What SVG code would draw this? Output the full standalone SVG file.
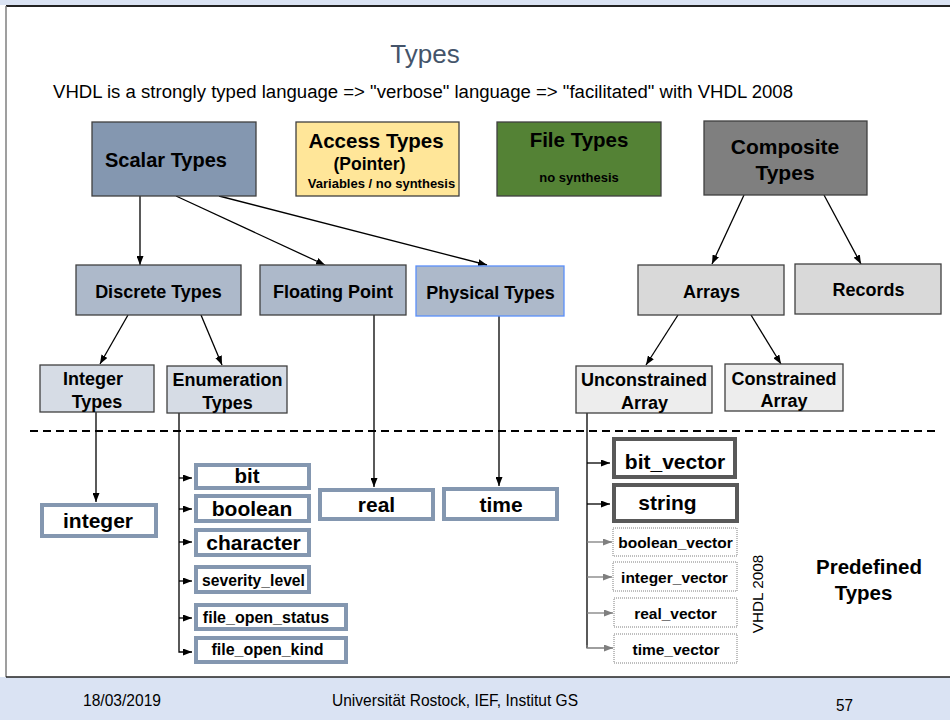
<svg xmlns="http://www.w3.org/2000/svg" width="950" height="720" viewBox="0 0 950 720">
<style>
text{font-family:"Liberation Sans",Arial,sans-serif;fill:#000}
.b{font-weight:bold}
.box{stroke:#404040;stroke-width:1.3}
.c{stroke:#000;stroke-width:1.3;fill:none}
.g{stroke:#7f7f7f;stroke-width:1.3;fill:none}
.ob{fill:#fff;stroke:#8497b0;stroke-width:4}
.db{fill:#fff;stroke:#595959;stroke-width:4}
.dt{fill:#fff;stroke:#7f7f7f;stroke-width:1;stroke-dasharray:1 1}
</style>
<defs>
<marker id="ah" markerWidth="9" markerHeight="7" refX="9" refY="3.5" orient="auto" markerUnits="userSpaceOnUse"><path d="M0,0 L9,3.5 L0,7 z" fill="#000"/></marker>
<marker id="ahg" markerWidth="9" markerHeight="7" refX="9" refY="3.5" orient="auto" markerUnits="userSpaceOnUse"><path d="M0,0 L9,3.5 L0,7 z" fill="#7f7f7f"/></marker>
</defs>
<rect x="0" y="0" width="950" height="720" fill="#fff"/>
<rect x="0" y="0" width="950" height="5" fill="#dae3f3"/>
<rect x="0" y="677" width="950" height="43" fill="#dae3f3"/>
<line x1="6" y1="6" x2="950" y2="6" stroke="#222" stroke-width="2"/>
<line x1="6" y1="6" x2="6" y2="677" stroke="#7f7f7f" stroke-width="1.5"/>
<line x1="6" y1="677" x2="950" y2="677" stroke="#222" stroke-width="1.5"/>
<text x="425" y="63" font-size="26" text-anchor="middle" style="fill:#44546a">Types</text>
<text x="53" y="98" font-size="18" textLength="740" lengthAdjust="spacingAndGlyphs">VHDL is a strongly typed language =&gt; "verbose" language =&gt; "facilitated" with VHDL 2008</text>
<line x1="30" y1="431" x2="940" y2="431" stroke="#000" stroke-width="2" stroke-dasharray="8 5"/>

<g id="connectors">
<line class="c" x1="140" y1="196" x2="140" y2="265" marker-end="url(#ah)"/>
<line class="c" x1="176" y1="196" x2="325" y2="265" marker-end="url(#ah)"/>
<line class="c" x1="219" y1="196" x2="487" y2="265" marker-end="url(#ah)"/>
<line class="c" x1="744" y1="195" x2="712" y2="264" marker-end="url(#ah)"/>
<line class="c" x1="824" y1="195" x2="861" y2="264" marker-end="url(#ah)"/>
<line class="c" x1="128" y1="315" x2="100" y2="364" marker-end="url(#ah)"/>
<line class="c" x1="201" y1="315" x2="222" y2="365" marker-end="url(#ah)"/>
<line class="c" x1="678" y1="315" x2="646" y2="365" marker-end="url(#ah)"/>
<line class="c" x1="751" y1="315" x2="781" y2="364" marker-end="url(#ah)"/>
<line class="c" x1="374" y1="315" x2="374" y2="487" marker-end="url(#ah)"/>
<line class="c" x1="499" y1="316" x2="499" y2="486" marker-end="url(#ah)"/>
<line class="c" x1="96" y1="412" x2="96" y2="502" marker-end="url(#ah)"/>
<path class="c" d="M179,413 V652 H192" marker-end="url(#ah)"/>
<line class="c" x1="179" y1="478" x2="192" y2="478" marker-end="url(#ah)"/>
<line class="c" x1="179" y1="509" x2="192" y2="509" marker-end="url(#ah)"/>
<line class="c" x1="179" y1="542" x2="192" y2="542" marker-end="url(#ah)"/>
<line class="c" x1="179" y1="581" x2="192" y2="581" marker-end="url(#ah)"/>
<line class="c" x1="179" y1="618" x2="192" y2="618" marker-end="url(#ah)"/>
<line class="c" x1="587" y1="413" x2="587" y2="648"/>
<line class="c" x1="587" y1="463" x2="610" y2="463" marker-end="url(#ah)"/>
<line class="c" x1="587" y1="504" x2="610" y2="504" marker-end="url(#ah)"/>
<line class="g" x1="587" y1="542" x2="612" y2="542" marker-end="url(#ahg)"/>
<line class="g" x1="587" y1="577" x2="612" y2="577" marker-end="url(#ahg)"/>
<line class="g" x1="587" y1="613" x2="613" y2="613" marker-end="url(#ahg)"/>
<path class="g" d="M587,645 V648 H613" marker-end="url(#ahg)"/>
</g>

<g id="scalar"><rect class="box" x="92" y="122" width="164" height="74" fill="#8497b0"/><text class="b" x="166" y="167" font-size="20" text-anchor="middle">Scalar Types</text></g>
<g id="access"><rect class="box" x="296" y="122" width="163" height="74" fill="#ffe699"/><text class="b" x="376" y="148" font-size="20.5" text-anchor="middle">Access Types</text><text class="b" x="369.5" y="170" font-size="17.5" text-anchor="middle">(Pointer)</text><text class="b" x="381.5" y="187.5" font-size="13" text-anchor="middle">Variables / no synthesis</text></g>
<g id="file"><rect class="box" x="497" y="122" width="164" height="74" fill="#548235"/><text class="b" x="579" y="147" font-size="20.5" text-anchor="middle">File Types</text><text class="b" x="579" y="181.5" font-size="13" text-anchor="middle">no synthesis</text></g>
<g id="composite"><rect class="box" x="704" y="121" width="163" height="74" fill="#7f7f7f"/><text class="b" x="785" y="153.5" font-size="21" text-anchor="middle">Composite</text><text class="b" x="785" y="179.5" font-size="21" text-anchor="middle">Types</text></g>

<g id="discrete"><rect class="box" x="76" y="265" width="165" height="50" fill="#adb9ca"/><text class="b" x="158.5" y="297.5" font-size="18" text-anchor="middle">Discrete Types</text></g>
<g id="floating"><rect class="box" x="260" y="265" width="146" height="50" fill="#adb9ca"/><text class="b" x="333" y="297.5" font-size="18" text-anchor="middle">Floating Point</text></g>
<g id="physical"><rect x="416" y="266" width="148" height="50" fill="#adb9ca" stroke="#5b8ff9" stroke-width="1.3"/><text class="b" x="490.5" y="298.5" font-size="18" text-anchor="middle">Physical Types</text></g>
<g id="arrays"><rect class="box" x="638" y="265" width="146" height="50" fill="#d9d9d9"/><text class="b" x="711.5" y="297.5" font-size="18" text-anchor="middle">Arrays</text></g>
<g id="records"><rect class="box" x="795" y="264" width="146" height="50" fill="#d9d9d9"/><text class="b" x="868.5" y="295.5" font-size="18" text-anchor="middle">Records</text></g>

<g id="integer-types"><rect class="box" x="40" y="365" width="114" height="47" fill="#d6dce5"/><text class="b" x="93" y="384.5" font-size="18" text-anchor="middle">Integer</text><text class="b" x="97" y="407.5" font-size="18" text-anchor="middle">Types</text></g>
<g id="enumeration-types"><rect class="box" x="167" y="366" width="120" height="47" fill="#d6dce5"/><text class="b" x="227.5" y="385.5" font-size="18" text-anchor="middle">Enumeration</text><text class="b" x="227.5" y="408.5" font-size="18" text-anchor="middle">Types</text></g>
<g id="unconstrained"><rect class="box" x="576" y="366" width="136" height="47" fill="#ededed"/><text class="b" x="644" y="385.5" font-size="18" text-anchor="middle">Unconstrained</text><text class="b" x="644.5" y="408.5" font-size="18" text-anchor="middle">Array</text></g>
<g id="constrained"><rect class="box" x="725" y="364" width="118" height="47" fill="#ededed"/><text class="b" x="784" y="384.5" font-size="18" text-anchor="middle">Constrained</text><text class="b" x="784" y="406.5" font-size="18" text-anchor="middle">Array</text></g>

<g id="integer"><rect class="ob" x="42" y="505" width="114" height="31"/><text class="b" x="98" y="527.5" font-size="21" text-anchor="middle">integer</text></g>
<g id="bit"><rect class="ob" x="196" y="465" width="113" height="23"/><text class="b" x="247" y="483" font-size="20.5" text-anchor="middle">bit</text></g>
<g id="boolean"><rect class="ob" x="196" y="496" width="113" height="25"/><text class="b" x="252" y="516" font-size="21" text-anchor="middle">boolean</text></g>
<g id="character"><rect class="ob" x="196" y="530" width="113" height="25"/><text class="b" x="253.5" y="549.5" font-size="21" text-anchor="middle">character</text></g>
<g id="severity_level"><rect class="ob" x="196" y="567" width="113" height="25"/><text class="b" x="253.5" y="585.5" font-size="15.7" text-anchor="middle">severity_level</text></g>
<g id="file_open_status"><rect class="ob" x="196" y="605" width="150" height="24"/><text class="b" x="266" y="622.5" font-size="16" text-anchor="middle">file_open_status</text></g>
<g id="file_open_kind"><rect class="ob" x="196" y="638" width="150" height="24"/><text class="b" x="267.5" y="654.5" font-size="16" text-anchor="middle">file_open_kind</text></g>
<g id="real"><rect class="ob" x="320" y="490" width="113" height="29"/><text class="b" x="376.5" y="512" font-size="21" text-anchor="middle">real</text></g>
<g id="time"><rect class="ob" x="444" y="489" width="113" height="30"/><text class="b" x="501" y="512" font-size="21" text-anchor="middle">time</text></g>

<g id="bit_vector"><rect class="db" x="614" y="439" width="121" height="38"/><text class="b" x="675" y="468.5" font-size="21" text-anchor="middle">bit_vector</text></g>
<g id="string"><rect class="db" x="614" y="485" width="123" height="36"/><text class="b" x="667.5" y="509.5" font-size="21" text-anchor="middle">string</text></g>
<g id="boolean_vector"><rect class="dt" x="613" y="528" width="124" height="28"/><text class="b" x="675.5" y="547.5" font-size="15.5" text-anchor="middle">boolean_vector</text></g>
<g id="integer_vector"><rect class="dt" x="613" y="562" width="124" height="29"/><text class="b" x="674.5" y="582.5" font-size="15.5" text-anchor="middle">integer_vector</text></g>
<g id="real_vector"><rect class="dt" x="614" y="598" width="123" height="29"/><text class="b" x="675.5" y="618.5" font-size="15.5" text-anchor="middle">real_vector</text></g>
<g id="time_vector"><rect class="dt" x="614" y="634" width="123" height="29"/><text class="b" x="676" y="654.5" font-size="15.5" text-anchor="middle">time_vector</text></g>

<text x="0" y="0" font-size="15.3" text-anchor="middle" transform="translate(762.5,594) rotate(-90)">VHDL 2008</text>
<text class="b" x="869" y="573.5" font-size="20.5" text-anchor="middle">Predefined</text>
<text class="b" x="863.5" y="599.5" font-size="20.5" text-anchor="middle">Types</text>

<text x="83" y="706" font-size="16" textLength="78" lengthAdjust="spacingAndGlyphs">18/03/2019</text>
<text x="332" y="706" font-size="16" textLength="246" lengthAdjust="spacingAndGlyphs">Universität Rostock, IEF, Institut GS</text>
<text x="836" y="711" font-size="16" textLength="17" lengthAdjust="spacingAndGlyphs">57</text>
</svg>
